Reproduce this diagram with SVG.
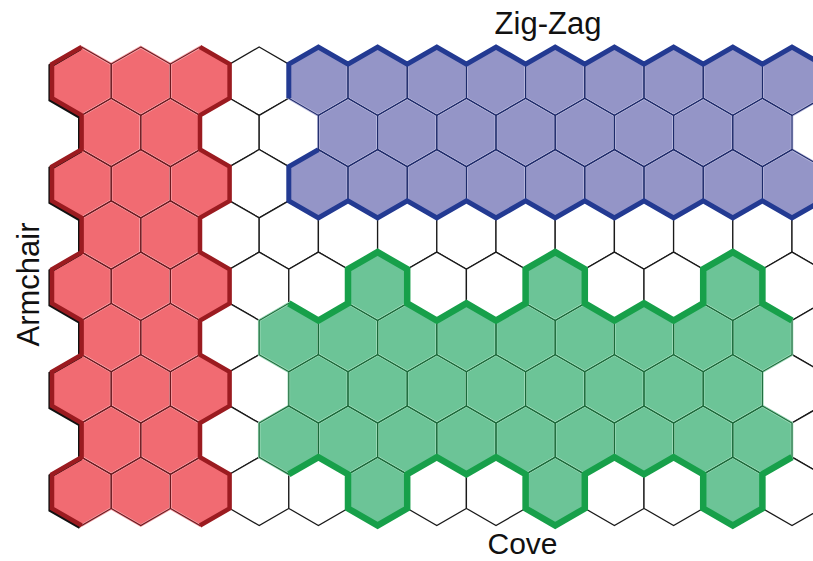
<svg xmlns="http://www.w3.org/2000/svg" xmlns:xlink="http://www.w3.org/1999/xlink" width="813" height="561" viewBox="0 0 813 561">
<style>
.w{fill:#fff;stroke:#1a1a1a;stroke-width:1.3}
.rf{fill:#F16B72;stroke:#F7A4A9;stroke-width:2.6}
.rs{fill:none;stroke:#6A1A20;stroke-width:1.1}
.bf{fill:#9495C7;stroke:#B9BADD;stroke-width:2.6}
.bs{fill:none;stroke:#1E2A6A;stroke-width:1.1}
.gf{fill:#6CC497;stroke:#9EDAB9;stroke-width:2.6}
.gs{fill:none;stroke:#1B6A3A;stroke-width:1.1}
.thick{fill:none;stroke-linejoin:miter;stroke-linecap:butt}
.lbl{font-family:"Liberation Sans",Arial,sans-serif;font-size:31px;fill:#111}
</style>
<defs>
<path id="h" d="M0,-34.18 L29.6,-17.09 L29.6,17.09 L0,34.18 L-29.6,17.09 L-29.6,-17.09 Z"/>
<g id="er">
<use href="#h" x="81.6"/><use href="#h" x="140.8"/><use href="#h" x="200"/><use href="#h" x="259.2"/><use href="#h" x="318.4"/><use href="#h" x="377.6"/><use href="#h" x="436.8"/><use href="#h" x="496"/><use href="#h" x="555.2"/><use href="#h" x="614.4"/><use href="#h" x="673.6"/><use href="#h" x="732.8"/><use href="#h" x="792"/>
</g>
<g id="or">
<use href="#h" x="111.2"/><use href="#h" x="170.4"/><use href="#h" x="229.6"/><use href="#h" x="288.8"/><use href="#h" x="348"/><use href="#h" x="407.2"/><use href="#h" x="466.4"/><use href="#h" x="525.6"/><use href="#h" x="584.8"/><use href="#h" x="644"/><use href="#h" x="703.2"/><use href="#h" x="762.4"/><use href="#h" x="821.6"/>
</g>
<g id="redE"><use href="#h" x="81.6"/><use href="#h" x="140.8"/><use href="#h" x="200"/></g>
<g id="redO"><use href="#h" x="111.2"/><use href="#h" x="170.4"/></g>
<g id="redAll">
<use href="#redE" y="81.2"/><use href="#redO" y="132.47"/><use href="#redE" y="183.74"/><use href="#redO" y="235.01"/><use href="#redE" y="286.28"/><use href="#redO" y="337.55"/><use href="#redE" y="388.82"/><use href="#redO" y="440.09"/><use href="#redE" y="491.36"/>
</g>
<g id="blueE"><use href="#h" x="318.4"/><use href="#h" x="377.6"/><use href="#h" x="436.8"/><use href="#h" x="496"/><use href="#h" x="555.2"/><use href="#h" x="614.4"/><use href="#h" x="673.6"/><use href="#h" x="732.8"/><use href="#h" x="792"/></g>
<g id="blueO"><use href="#h" x="348"/><use href="#h" x="407.2"/><use href="#h" x="466.4"/><use href="#h" x="525.6"/><use href="#h" x="584.8"/><use href="#h" x="644"/><use href="#h" x="703.2"/><use href="#h" x="762.4"/></g>
<g id="blueAll"><use href="#blueE" y="81.2"/><use href="#blueO" y="132.47"/><use href="#blueE" y="183.74"/></g>
<g id="greenP"><use href="#h" x="377.6"/><use href="#h" x="555.2"/><use href="#h" x="732.8"/></g>
<g id="greenO"><use href="#h" x="288.8"/><use href="#h" x="348"/><use href="#h" x="407.2"/><use href="#h" x="466.4"/><use href="#h" x="525.6"/><use href="#h" x="584.8"/><use href="#h" x="644"/><use href="#h" x="703.2"/><use href="#h" x="762.4"/></g>
<g id="greenE"><use href="#h" x="318.4"/><use href="#h" x="377.6"/><use href="#h" x="436.8"/><use href="#h" x="496"/><use href="#h" x="555.2"/><use href="#h" x="614.4"/><use href="#h" x="673.6"/><use href="#h" x="732.8"/></g>
<g id="greenAll"><use href="#greenP" y="286.28"/><use href="#greenO" y="337.55"/><use href="#greenE" y="388.82"/><use href="#greenO" y="440.09"/><use href="#greenP" y="491.36"/></g>
</defs>
<rect width="813" height="561" fill="#fff"/>
<g id="lattice" class="w">
<use href="#er" y="81.2"/><use href="#or" y="132.47"/><use href="#er" y="183.74"/><use href="#or" y="235.01"/><use href="#er" y="286.28"/><use href="#or" y="337.55"/><use href="#er" y="388.82"/><use href="#or" y="440.09"/><use href="#er" y="491.36"/>
</g>
<g id="armchair">
<use href="#redAll" class="rf"/>
<use href="#redAll" class="rs"/>
</g>
<g id="zigzag">
<use href="#blueAll" class="bf"/>
<use href="#blueAll" class="bs"/>
</g>
<g id="cove">
<use href="#greenAll" class="gf"/>
<use href="#greenAll" class="gs"/>
</g>
<g id="edges" class="thick">
<path stroke="#111" stroke-width="4" transform="translate(-1.6,1.6)" d="M81.6,47.02 L52,64.11 L52,98.29 L81.6,115.38 L81.6,149.56 L52,166.65 L52,200.83 L81.6,217.92 L81.6,252.1 L52,269.19 L52,303.37 L81.6,320.46 L81.6,354.64 L52,371.73 L52,405.91 L81.6,423 L81.6,457.18 L52,474.27 L52,508.45 L81.6,525.54"/>
<path stroke="#9B1B20" stroke-width="4.5" d="M81.6,47.02 L52,64.11 L52,98.29 L81.6,115.38 L81.6,149.56 L52,166.65 L52,200.83 L81.6,217.92 L81.6,252.1 L52,269.19 L52,303.37 L81.6,320.46 L81.6,354.64 L52,371.73 L52,405.91 L81.6,423 L81.6,457.18 L52,474.27 L52,508.45 L81.6,525.54"/>
<path stroke="#9B1B20" stroke-width="4.5" d="M200,47.02 L229.6,64.11 L229.6,98.29 L200,115.38 L200,149.56 L229.6,166.65 L229.6,200.83 L200,217.92 L200,252.1 L229.6,269.19 L229.6,303.37 L200,320.46 L200,354.64 L229.6,371.73 L229.6,405.91 L200,423 L200,457.18 L229.6,474.27 L229.6,508.45 L200,525.54"/>
<path stroke="#233A92" stroke-width="5" d="M288.8,98.29 L288.8,64.11 L318.4,47.02 L348,64.11 L377.6,47.02 L407.2,64.11 L436.8,47.02 L466.4,64.11 L496,47.02 L525.6,64.11 L555.2,47.02 L584.8,64.11 L614.4,47.02 L644,64.11 L673.6,47.02 L703.2,64.11 L732.8,47.02 L762.4,64.11 L792,47.02 L821.6,64.11"/>
<path stroke="#233A92" stroke-width="5" d="M318.4,149.56 L288.8,166.65 L288.8,200.83 L318.4,217.92 L348,200.83 L377.6,217.92 L407.2,200.83 L436.8,217.92 L466.4,200.83 L496,217.92 L525.6,200.83 L555.2,217.92 L584.8,200.83 L614.4,217.92 L644,200.83 L673.6,217.92 L703.2,200.83 L732.8,217.92 L762.4,200.83 L792,217.92 L821.6,200.83"/>
<path stroke="#17A04A" stroke-width="6.5" d="M288.8,303.37 L318.4,320.46 L348,303.37 L348,269.19 L377.6,252.1 L407.2,269.19 L407.2,303.37 L436.8,320.46 L466.4,303.37 L496,320.46 L525.6,303.37 L525.6,269.19 L555.2,252.1 L584.8,269.19 L584.8,303.37 L614.4,320.46 L644,303.37 L673.6,320.46 L703.2,303.37 L703.2,269.19 L732.8,252.1 L762.4,269.19 L762.4,303.37 L792,320.46"/>
<path stroke="#17A04A" stroke-width="6.5" d="M288.8,474.27 L318.4,457.18 L348,474.27 L348,508.45 L377.6,525.54 L407.2,508.45 L407.2,474.27 L436.8,457.18 L466.4,474.27 L496,457.18 L525.6,474.27 L525.6,508.45 L555.2,525.54 L584.8,508.45 L584.8,474.27 L614.4,457.18 L644,474.27 L673.6,457.18 L703.2,474.27 L703.2,508.45 L732.8,525.54 L762.4,508.45 L762.4,474.27 L792,457.18"/>
</g>
<g id="labels">
<text class="lbl" x="548" y="33.5" text-anchor="middle">Zig-Zag</text>
<text class="lbl" x="522.5" y="554" text-anchor="middle" style="font-size:30px">Cove</text>
<text class="lbl" transform="translate(38.5,284.5) rotate(-90)" x="0" y="0" text-anchor="middle">Armchair</text>
</g>
</svg>
